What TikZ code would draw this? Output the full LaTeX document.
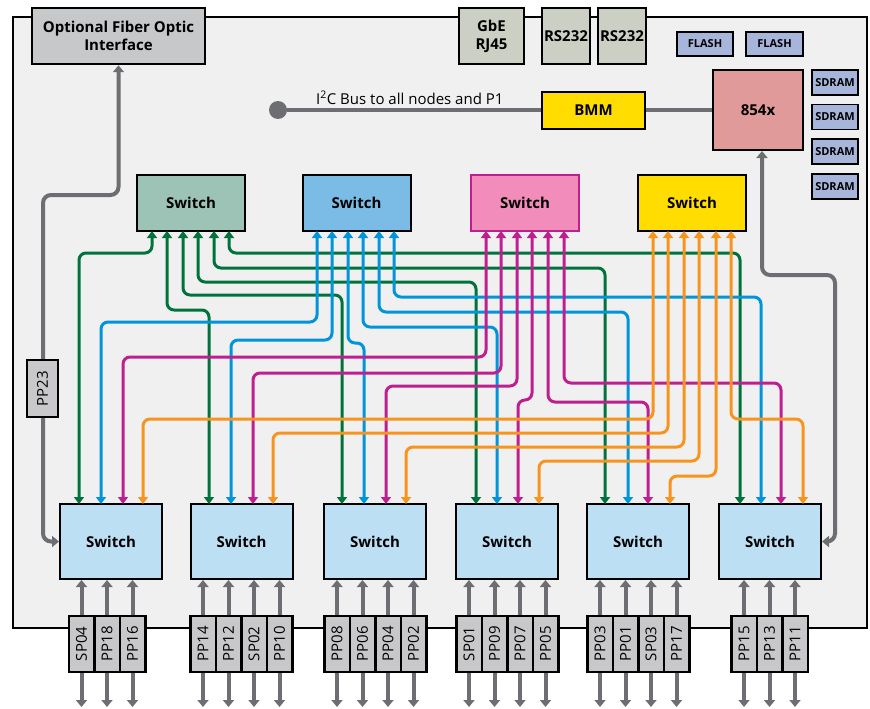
\documentclass[tikz,border=0pt]{standalone}
\usepackage{fontspec}
\setmainfont{Open Sans}
\usetikzlibrary{arrows.meta}

\definecolor{boardgray}{HTML}{F0F0F0}
\definecolor{fibergray}{HTML}{C7C8CA}
\definecolor{conngray}{HTML}{CCCFC4}
\definecolor{memblue}{HTML}{A8B5DA}
\definecolor{cpupink}{HTML}{E09A9A}
\definecolor{bmmyellow}{HTML}{FFDD00}
\definecolor{swgreen}{HTML}{9CC3B6}
\definecolor{swblue}{HTML}{7BBCE7}
\definecolor{swpink}{HTML}{F28CBB}
\definecolor{swlight}{HTML}{BDDFF3}
\definecolor{portgray}{HTML}{C8C8CA}
\definecolor{linegray}{HTML}{6D6E71}
\definecolor{wgreen}{HTML}{00733D}
\definecolor{wblue}{HTML}{0095DA}
\definecolor{wpink}{HTML}{BF1F8E}
\definecolor{worange}{HTML}{F7941E}

\tikzset{
  wtip/.tip={Triangle[width=10pt,length=7pt]},
  gtip/.tip={Triangle[width=11pt,length=7pt]},
  box/.style={draw=black, line width=2pt, inner sep=1pt, align=center, font=\bfseries\fontsize{15}{18}\selectfont},
  conn/.style={box, fill=conngray, minimum height=56pt, inner sep=0pt},
  mem/.style={box, fill=memblue, line width=1.8pt, inner sep=0pt, font=\bfseries\fontsize{11}{13}\selectfont},
  topsw/.style={box, minimum width=108pt, minimum height=56pt},
  nodesw/.style={box, fill=swlight, minimum width=102pt, minimum height=75pt},
  port/.style={draw=black, line width=2.5pt, fill=portgray, rotate=90, inner sep=0pt, minimum width=56pt, minimum height=25.5pt, font=\fontsize{15}{15}\selectfont},
  wire/.style={line width=3pt, rounded corners=7pt, wtip-wtip},
  link/.style={draw=linegray, line width=4pt, rounded corners=8pt, gtip-gtip},
  portarrow/.style={draw=linegray, line width=4pt, -gtip}
}

\begin{document}
\begin{tikzpicture}[x=1pt,y=-1pt]
\useasboundingbox (0,0) rectangle (870,709);

\draw[fill=boardgray, line width=1.5pt] (13,17) rectangle (867,628);

\node[box, fill=fibergray, line width=2.5pt, minimum width=173pt, minimum height=56pt] (fiber) at (118.5,36) {Optional Fiber Optic\\Interface};
\node[conn, minimum width=65pt] (gbe) at (491.5,36) {GbE\\RJ45};
\node[conn, minimum width=48pt] (rs1) at (566,36) {RS232};
\node[conn, minimum width=48pt] (rs2) at (622,36) {RS232};
\node[mem, minimum width=56pt, minimum height=24pt] (flash1) at (705,44) {FLASH};
\node[mem, minimum width=57pt, minimum height=24pt] (flash2) at (774.5,44) {FLASH};
\node[box, fill=cpupink, minimum width=90pt, minimum height=80pt] (cpu) at (758,110) {854x};
\node[mem, minimum width=46pt, minimum height=25pt] (sdram1) at (835,82.5) {SDRAM};
\node[mem, minimum width=46pt, minimum height=25pt] (sdram2) at (835,117) {SDRAM};
\node[mem, minimum width=46pt, minimum height=25pt] (sdram3) at (835,151.5) {SDRAM};
\node[mem, minimum width=46pt, minimum height=25pt] (sdram4) at (835,186.5) {SDRAM};
\node[box, fill=bmmyellow, minimum width=103pt, minimum height=37pt] (bmm) at (593.5,110) {BMM};

\node[circle, fill=linegray, minimum size=18pt, inner sep=0pt] (i2cdot) at (278,110) {};
\node[anchor=base west, inner sep=0pt, font=\fontsize{15}{18}\selectfont] (i2c) at (316,104) {I\textsuperscript{2}C Bus to all nodes and P1};
\draw[linegray, line width=4pt] (i2cdot) -- (bmm);
\draw[linegray, line width=4pt] (bmm) -- (cpu);

\node[topsw, fill=swgreen] (gsw) at (191,203) {Switch};
\node[topsw, fill=swblue] (bsw) at (356.5,203) {Switch};
\node[topsw, fill=swpink, draw=wpink] (psw) at (525,203) {Switch};
\node[topsw, fill=bmmyellow] (osw) at (692,203) {Switch};

\node[nodesw] (sw1) at (111,541.5) {Switch};
\node[nodesw] (sw2) at (241.5,541.5) {Switch};
\node[nodesw] (sw3) at (375,541.5) {Switch};
\node[nodesw] (sw4) at (507,541.5) {Switch};
\node[nodesw] (sw5) at (638,541.5) {Switch};
\node[nodesw] (sw6) at (770,541.5) {Switch};

\coordinate (g1) at (152,231); \coordinate (g2) at (167,231); \coordinate (g3) at (183,231);
\coordinate (g4) at (198,231); \coordinate (g5) at (214,231); \coordinate (g6) at (229,231);
\coordinate (b1) at (317,231); \coordinate (b2) at (332,231); \coordinate (b3) at (348,231);
\coordinate (b4) at (363,231); \coordinate (b5) at (379,231); \coordinate (b6) at (394,231);
\coordinate (p1) at (486,231); \coordinate (p2) at (501,231); \coordinate (p3) at (517,231);
\coordinate (p4) at (532,231); \coordinate (p5) at (548,231); \coordinate (p6) at (564,231);
\coordinate (o1) at (653,231); \coordinate (o2) at (668,231); \coordinate (o3) at (684,231);
\coordinate (o4) at (699,231); \coordinate (o5) at (716,231); \coordinate (o6) at (731,231);

\coordinate (sw1g) at (79,504);  \coordinate (sw1b) at (101,504); \coordinate (sw1p) at (123,504); \coordinate (sw1o) at (143,504);
\coordinate (sw2g) at (209,504); \coordinate (sw2b) at (231,504); \coordinate (sw2p) at (253,504); \coordinate (sw2o) at (273,504);
\coordinate (sw3g) at (342,504); \coordinate (sw3b) at (364,504); \coordinate (sw3p) at (386,504); \coordinate (sw3o) at (406,504);
\coordinate (sw4g) at (476,504); \coordinate (sw4b) at (497,504); \coordinate (sw4p) at (518,504); \coordinate (sw4o) at (539,504);
\coordinate (sw5g) at (605,504); \coordinate (sw5b) at (628,504); \coordinate (sw5p) at (648,504); \coordinate (sw5o) at (670,504);
\coordinate (sw6g) at (740,504); \coordinate (sw6b) at (761,504); \coordinate (sw6p) at (781,504); \coordinate (sw6o) at (803,504);

\draw[wire, wgreen] (g1) -- (g1 |- 0,253) -| (sw1g);
\draw[wire, wgreen] (g2) -- (g2 |- 0,310) -| (sw2g);
\draw[wire, wgreen] (g3) -- (g3 |- 0,295) -| (sw3g);
\draw[wire, wgreen] (g4) -- (g4 |- 0,282) -| (sw4g);
\draw[wire, wgreen] (g5) -- (g5 |- 0,268) -| (sw5g);
\draw[wire, wgreen] (g6) -- (g6 |- 0,253) -| (sw6g);

\draw[wire, wblue] (b1) -- (b1 |- 0,322) -| (sw1b);
\draw[wire, wblue] (b2) -- (b2 |- 0,340) -| (sw2b);
\draw[wire, wblue] (b3) -- (b3 |- 0,343) -| (sw3b);
\draw[wire, wblue] (b4) -- (b4 |- 0,327) -| (sw4b);
\draw[wire, wblue] (b5) -- (b5 |- 0,312) -| (sw5b);
\draw[wire, wblue] (b6) -- (b6 |- 0,297) -| (sw6b);

\draw[wire, wpink] (p1) -- (p1 |- 0,357) -| (sw1p);
\draw[wire, wpink] (p2) -- (p2 |- 0,373) -| (sw2p);
\draw[wire, wpink] (p3) -- (p3 |- 0,386) -| (sw3p);
\draw[wire, wpink] (p4) -- (p4 |- 0,400) -| (sw4p);
\draw[wire, wpink] (p5) -- (p5 |- 0,402) -| (sw5p);
\draw[wire, wpink] (p6) -- (p6 |- 0,383) -| (sw6p);

\draw[wire, worange] (o1) -- (o1 |- 0,419) -| (sw1o);
\draw[wire, worange] (o2) -- (o2 |- 0,433) -| (sw2o);
\draw[wire, worange] (o3) -- (o3 |- 0,447) -| (sw3o);
\draw[wire, worange] (o4) -- (o4 |- 0,461) -| (sw4o);
\draw[wire, worange] (o5) -- (o5 |- 0,476) -| (sw5o);
\draw[wire, worange] (o6) -- (o6 |- 0,419) -| (sw6o);

\draw[link] (fiber.south) |- (43,195) |- (sw1.west);
\draw[link] ([xshift=4pt]cpu.south) |- (835,275) |- (sw6.east);

\node[port, minimum width=57pt, minimum height=31pt] (pp23) at (42.5,388.5) {PP23};

\node[port] (sp04) at (81.5,644) {SP04};
\node[port] (pp18) at (107,644) {PP18};
\node[port] (pp16) at (132.5,644) {PP16};
\node[port] (pp14) at (203,644) {PP14};
\node[port] (pp12) at (228.5,644) {PP12};
\node[port] (sp02) at (254,644) {SP02};
\node[port] (pp10) at (279.5,644) {PP10};
\node[port] (pp08) at (337,644) {PP08};
\node[port] (pp06) at (362.5,644) {PP06};
\node[port] (pp04) at (388,644) {PP04};
\node[port] (pp02) at (413.5,644) {PP02};
\node[port] (sp01) at (469,644) {SP01};
\node[port] (pp09) at (494.5,644) {PP09};
\node[port] (pp07) at (520,644) {PP07};
\node[port] (pp05) at (545.5,644) {PP05};
\node[port] (pp03) at (600,644) {PP03};
\node[port] (pp01) at (625.5,644) {PP01};
\node[port] (sp03) at (651,644) {SP03};
\node[port] (pp17) at (676.5,644) {PP17};
\node[port] (pp15) at (744,644) {PP15};
\node[port] (pp13) at (769.5,644) {PP13};
\node[port] (pp11) at (795,644) {PP11};

\coordinate (bot) at (0,707);

\draw[portarrow] (sp04.east) -- (sp04.east |- sw1.south); \draw[portarrow] (sp04.west) -- (sp04.west |- bot);
\draw[portarrow] (pp18.east) -- (pp18.east |- sw1.south); \draw[portarrow] (pp18.west) -- (pp18.west |- bot);
\draw[portarrow] (pp16.east) -- (pp16.east |- sw1.south); \draw[portarrow] (pp16.west) -- (pp16.west |- bot);
\draw[portarrow] (pp14.east) -- (pp14.east |- sw2.south); \draw[portarrow] (pp14.west) -- (pp14.west |- bot);
\draw[portarrow] (pp12.east) -- (pp12.east |- sw2.south); \draw[portarrow] (pp12.west) -- (pp12.west |- bot);
\draw[portarrow] (sp02.east) -- (sp02.east |- sw2.south); \draw[portarrow] (sp02.west) -- (sp02.west |- bot);
\draw[portarrow] (pp10.east) -- (pp10.east |- sw2.south); \draw[portarrow] (pp10.west) -- (pp10.west |- bot);
\draw[portarrow] (pp08.east) -- (pp08.east |- sw3.south); \draw[portarrow] (pp08.west) -- (pp08.west |- bot);
\draw[portarrow] (pp06.east) -- (pp06.east |- sw3.south); \draw[portarrow] (pp06.west) -- (pp06.west |- bot);
\draw[portarrow] (pp04.east) -- (pp04.east |- sw3.south); \draw[portarrow] (pp04.west) -- (pp04.west |- bot);
\draw[portarrow] (pp02.east) -- (pp02.east |- sw3.south); \draw[portarrow] (pp02.west) -- (pp02.west |- bot);
\draw[portarrow] (sp01.east) -- (sp01.east |- sw4.south); \draw[portarrow] (sp01.west) -- (sp01.west |- bot);
\draw[portarrow] (pp09.east) -- (pp09.east |- sw4.south); \draw[portarrow] (pp09.west) -- (pp09.west |- bot);
\draw[portarrow] (pp07.east) -- (pp07.east |- sw4.south); \draw[portarrow] (pp07.west) -- (pp07.west |- bot);
\draw[portarrow] (pp05.east) -- (pp05.east |- sw4.south); \draw[portarrow] (pp05.west) -- (pp05.west |- bot);
\draw[portarrow] (pp03.east) -- (pp03.east |- sw5.south); \draw[portarrow] (pp03.west) -- (pp03.west |- bot);
\draw[portarrow] (pp01.east) -- (pp01.east |- sw5.south); \draw[portarrow] (pp01.west) -- (pp01.west |- bot);
\draw[portarrow] (sp03.east) -- (sp03.east |- sw5.south); \draw[portarrow] (sp03.west) -- (sp03.west |- bot);
\draw[portarrow] (pp17.east) -- (pp17.east |- sw5.south); \draw[portarrow] (pp17.west) -- (pp17.west |- bot);
\draw[portarrow] (pp15.east) -- (pp15.east |- sw6.south); \draw[portarrow] (pp15.west) -- (pp15.west |- bot);
\draw[portarrow] (pp13.east) -- (pp13.east |- sw6.south); \draw[portarrow] (pp13.west) -- (pp13.west |- bot);
\draw[portarrow] (pp11.east) -- (pp11.east |- sw6.south); \draw[portarrow] (pp11.west) -- (pp11.west |- bot);

\end{tikzpicture}
\end{document}
